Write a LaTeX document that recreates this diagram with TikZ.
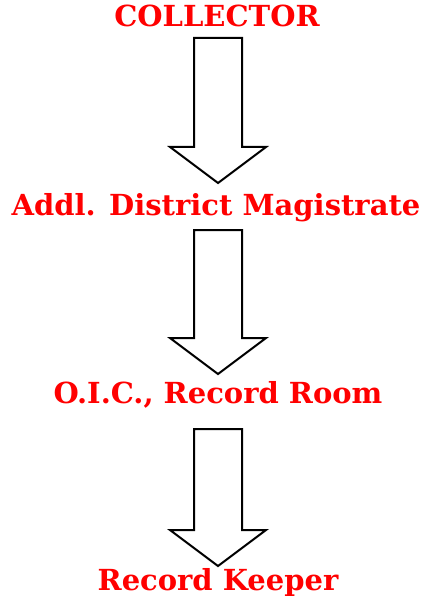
\documentclass[tikz,border=0pt]{standalone}
\usepackage{fontspec}
\setmainfont{DejaVu Serif}
\begin{document}
\begin{tikzpicture}[x=1pt,y=-1pt,
  lbl/.style={anchor=base,inner sep=0pt,text=red,font=\bfseries\fontsize{29}{29}\selectfont},
  blockarrow/.style={draw=black,line width=2pt,fill=white,line join=miter}]
\useasboundingbox (0,0) rectangle (426,596);
\node[lbl] (c) at (217,27) {COLLECTOR};
\node[lbl] (a) at (216,215) {Addl. District Magistrate};
\node[lbl] (o) at (218,403) {O.I.C., Record Room};
\node[lbl] (r) at (218,590) {Record Keeper};
\newcommand{\barrow}[3]{% x center, top, tip
  \draw[blockarrow] (#1-24,#2) -- (#1+24,#2) -- (#1+24,#3-36) -- (#1+48,#3-36) -- (#1,#3) -- (#1-48,#3-36) -- (#1-24,#3-36) -- cycle;}
\barrow{218}{38}{183}
\barrow{218}{230}{374}
\barrow{218}{429}{566}
\end{tikzpicture}
\end{document}
